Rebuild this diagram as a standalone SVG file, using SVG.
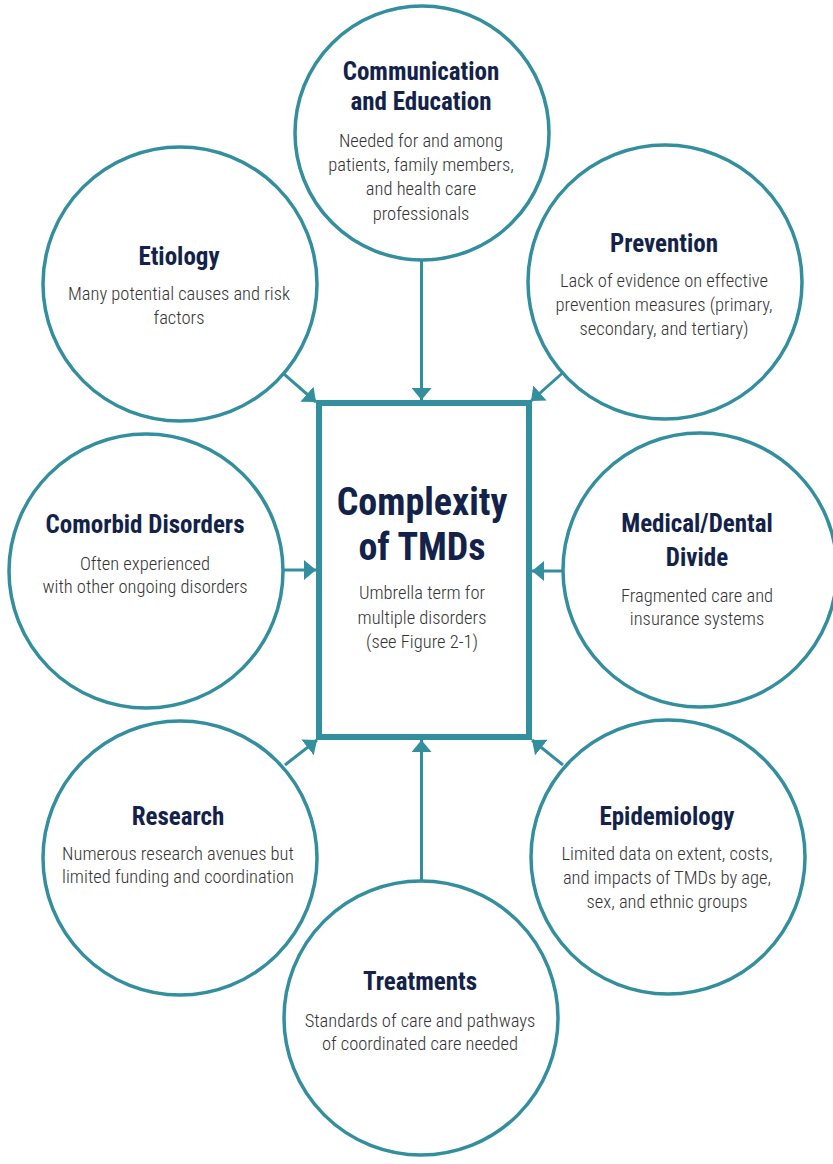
<svg xmlns="http://www.w3.org/2000/svg" width="833" height="1164" viewBox="0 0 833 1164">
<style>
.c{fill:#fff;stroke:#338e9e;stroke-width:3.5}
.t{font-family:"Liberation Sans Narrow","Roboto Condensed","DejaVu Sans Condensed",sans-serif;font-weight:bold;font-size:25px;fill:#13224a;text-anchor:middle}
.b{font-family:"Liberation Sans Narrow","Roboto Condensed","DejaVu Sans Condensed",sans-serif;font-weight:300;font-size:18.5px;fill:#333;text-anchor:middle}
.big{font-size:38px}
.a{stroke:#338e9e;stroke-width:3;fill:none;marker-end:url(#ah)}
</style>
<defs>
<marker id="ah" viewBox="0 0 12 20" refX="12" refY="10" markerWidth="12" markerHeight="20" markerUnits="userSpaceOnUse" orient="auto">
<path d="M0,0 L12,10 L0,20 Z" fill="#338e9e"/>
</marker>
</defs>
<rect width="833" height="1164" fill="#fff"/>
<g id="connectors">
<line class="a" x1="421.5" y1="260" x2="421.5" y2="400"/>
<line class="a" x1="283.5" y1="373.7" x2="316" y2="402"/>
<line class="a" x1="562.5" y1="373" x2="531" y2="401"/>
<line class="a" x1="284" y1="570" x2="316" y2="570"/>
<line class="a" x1="563" y1="571" x2="532" y2="571"/>
<line class="a" x1="285" y1="765" x2="317" y2="740"/>
<line class="a" x1="563" y1="765" x2="532" y2="740"/>
<line class="a" x1="421.5" y1="881" x2="421.5" y2="740"/>
</g>
<g id="communication">
<circle class="c" cx="422" cy="133" r="127"/>
<text class="t" x="421" y="80">Communication</text>
<text class="t" x="421" y="110">and Education</text>
<text class="b" x="421" y="147">Needed for and among</text>
<text class="b" x="421" y="171">patients, family members,</text>
<text class="b" x="421" y="195">and health care</text>
<text class="b" x="421" y="220">professionals</text>
</g>
<g id="etiology">
<circle class="c" cx="180" cy="284" r="137"/>
<text class="t" x="179" y="265">Etiology</text>
<text class="b" x="179" y="300">Many potential causes and risk</text>
<text class="b" x="179" y="324">factors</text>
</g>
<g id="prevention">
<circle class="c" cx="665" cy="282" r="137"/>
<text class="t" x="664" y="252">Prevention</text>
<text class="b" x="664" y="287">Lack of evidence on effective</text>
<text class="b" x="664" y="311">prevention measures (primary,</text>
<text class="b" x="664" y="335">secondary, and tertiary)</text>
</g>
<g id="comorbid">
<circle class="c" cx="146" cy="571" r="137"/>
<text class="t" x="145" y="533">Comorbid Disorders</text>
<text class="b" x="145" y="570">Often experienced</text>
<text class="b" x="145" y="593">with other ongoing disorders</text>
</g>
<g id="medical">
<circle class="c" cx="700" cy="570" r="137"/>
<text class="t" x="697" y="532">Medical/Dental</text>
<text class="t" x="697" y="566">Divide</text>
<text class="b" x="697" y="602">Fragmented care and</text>
<text class="b" x="697" y="625">insurance systems</text>
</g>
<g id="research">
<circle class="c" cx="180" cy="858" r="137"/>
<text class="t" x="178" y="825">Research</text>
<text class="b" x="178" y="860">Numerous research avenues but</text>
<text class="b" x="178" y="883">limited funding and coordination</text>
</g>
<g id="epidemiology">
<circle class="c" cx="668" cy="857" r="137"/>
<text class="t" x="667" y="825">Epidemiology</text>
<text class="b" x="667" y="860">Limited data on extent, costs,</text>
<text class="b" x="667" y="884">and impacts of TMDs by age,</text>
<text class="b" x="667" y="908">sex, and ethnic groups</text>
</g>
<g id="treatments">
<circle class="c" cx="421" cy="1018" r="137"/>
<text class="t" x="420" y="990">Treatments</text>
<text class="b" x="420" y="1027">Standards of care and pathways</text>
<text class="b" x="420" y="1050">of coordinated care needed</text>
</g>
<g id="center">
<rect x="319" y="403" width="210" height="334" fill="#fff" stroke="#338e9e" stroke-width="6"/>
<text class="t big" x="422" y="515">Complexity</text>
<text class="t big" x="422" y="560">of TMDs</text>
<text class="b" x="422" y="599">Umbrella term for</text>
<text class="b" x="422" y="624">multiple disorders</text>
<text class="b" x="422" y="648">(see Figure 2-1)</text>
</g>
</svg>
